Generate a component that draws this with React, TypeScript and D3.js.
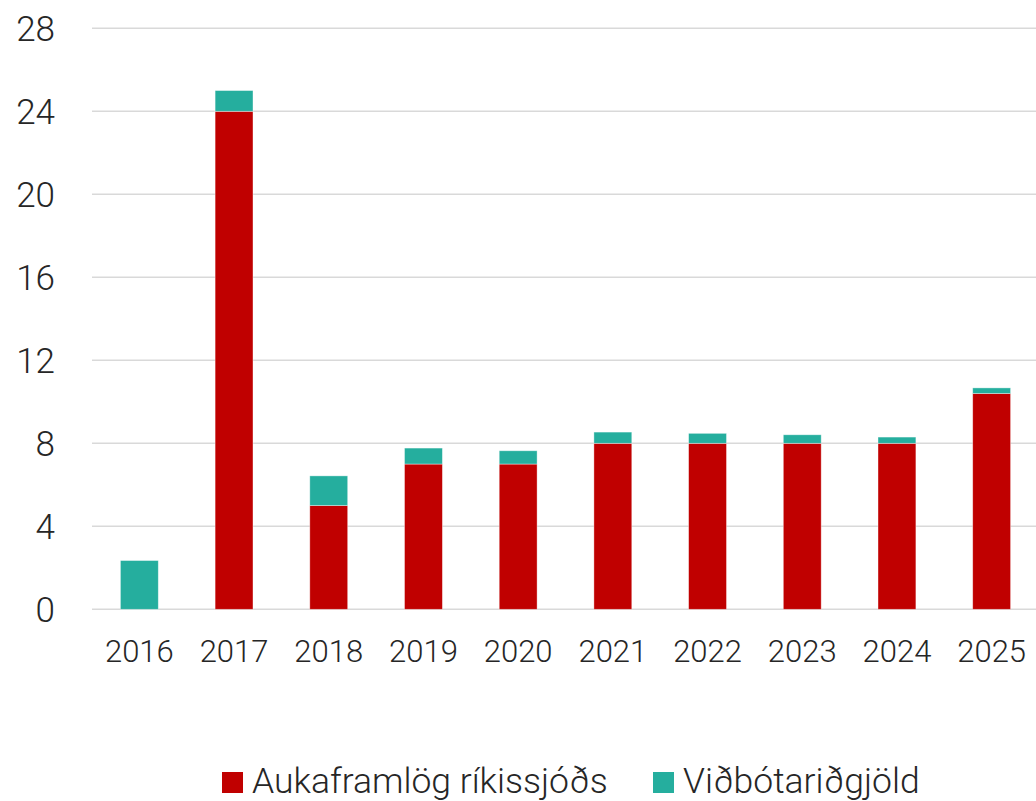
import { scaleBand, scaleLinear, stack } from "d3";

const years = ["2016", "2017", "2018", "2019", "2020", "2021", "2022", "2023", "2024", "2025"];
const aukaframlog = [0, 24, 5, 7, 7, 8, 8, 8, 8, 10.4];
const vidbotarigjold = [2.35, 1, 1.43, 0.77, 0.64, 0.54, 0.48, 0.41, 0.3, 0.27];
const yTicks = [0, 4, 8, 12, 16, 20, 24, 28];
const seriesNames = ["Aukaframlög ríkissjóðs", "Viðbótariðgjöld"];
const seriesColors = ["#c00000", "#25ae9e"];

const fontFamily = "Roboto, 'Liberation Sans', Arial, sans-serif";

export default function App() {
  const width = 1036;
  const height = 801;
  const left = 92;
  const right = 1036;
  const top = 28.3;
  const bottom = 609.3;

  const rows = years.map((year, i) => ({ year, a: aukaframlog[i], v: vidbotarigjold[i] }));
  const layers = stack<(typeof rows)[number]>().keys(["a", "v"])(rows as any);

  // bars run slightly past the gridline end, as in the original
  const x = scaleBand<string>().domain(years).range([left, right + 3]).paddingInner(0.6).paddingOuter(0.3);
  const y = scaleLinear().domain([0, 28]).range([bottom, top]);

  return (
    <div style={{ position: "absolute", left: 0, top: 0, width, height, background: "#fff" }}>
      <svg width={width} height={height} style={{ display: "block" }} fontFamily={fontFamily}>
        {yTicks.map((t) => (
          <g key={t}>
            <line x1={left} x2={right} y1={y(t)} y2={y(t)} stroke="#d9d9d9" strokeWidth={1.5} />
            <text
              x={55}
              y={y(t) + 12.5}
              textAnchor="end"
              fontSize={35}
              fontWeight={300}
              fill="#262626"
            >
              {t}
            </text>
          </g>
        ))}

        {layers.map((layer, li) => (
          <g key={layer.key} fill={seriesColors[li]}>
            {layer.map((d, i) =>
              d[1] - d[0] > 0 ? (
                <rect
                  key={years[i]}
                  x={x(years[i])}
                  width={x.bandwidth()}
                  y={y(d[1])}
                  height={y(d[0]) - y(d[1])}
                  stroke="#ffffff"
                  strokeOpacity={0.5}
                  strokeWidth={0.75}
                />
              ) : null
            )}
          </g>
        ))}

        {years.map((year) => (
          <text
            key={year}
            x={(x(year) ?? 0) + x.bandwidth() / 2}
            y={662}
            textAnchor="middle"
            fontSize={31}
            fontWeight={300}
            fill="#262626"
          >
            {year}
          </text>
        ))}

        {seriesNames.map((name, i) => {
          const lx = [222, 653][i];
          return (
            <g key={name}>
              <rect x={lx} y={772} width={21} height={21} fill={seriesColors[i]} />
              <text x={lx + 30} y={793} fontSize={35.5} fontWeight={300} fill="#262626">
                {name}
              </text>
            </g>
          );
        })}
      </svg>
    </div>
  );
}
